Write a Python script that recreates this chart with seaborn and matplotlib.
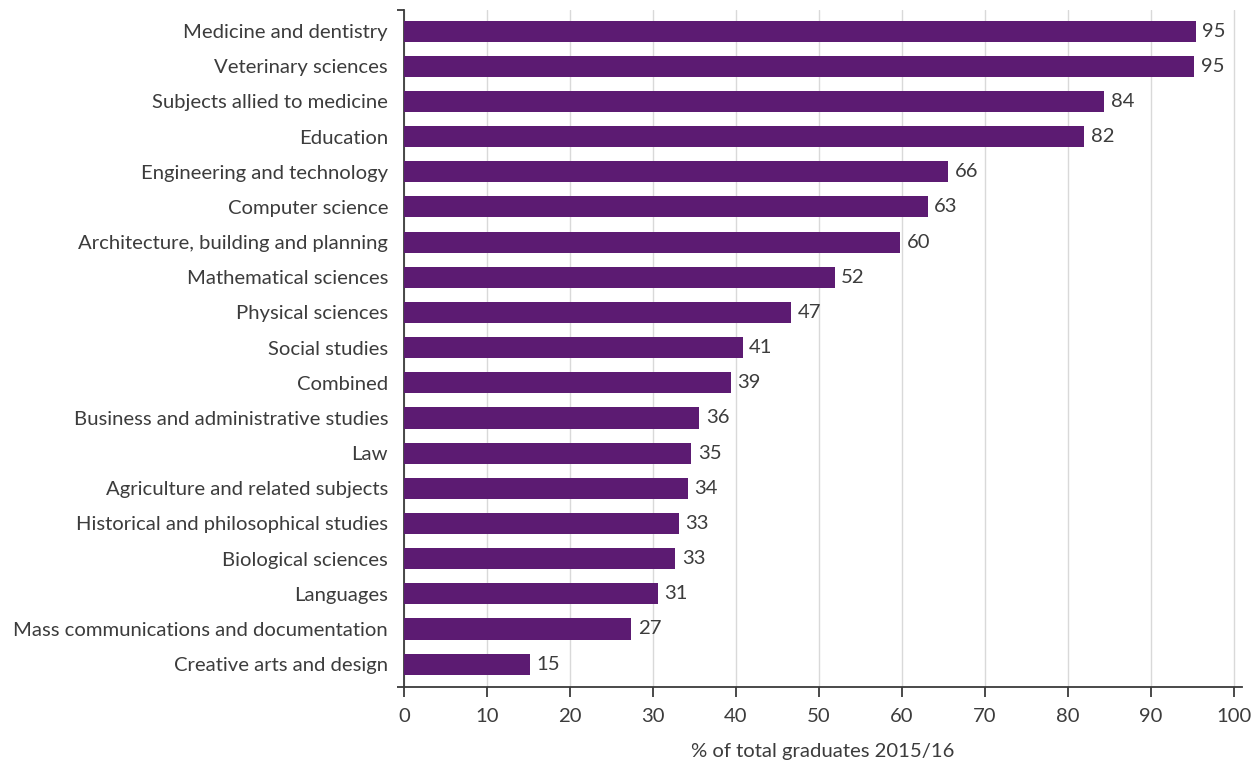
import matplotlib
matplotlib.use("Agg")
import matplotlib.pyplot as plt
import seaborn as sns
import pandas as pd

subjects = [
    "Medicine and dentistry",
    "Veterinary sciences",
    "Subjects allied to medicine",
    "Education",
    "Engineering and technology",
    "Computer science",
    "Architecture, building and planning",
    "Mathematical sciences",
    "Physical sciences",
    "Social studies",
    "Combined",
    "Business and administrative studies",
    "Law",
    "Agriculture and related subjects",
    "Historical and philosophical studies",
    "Biological sciences",
    "Languages",
    "Mass communications and documentation",
    "Creative arts and design",
]
share = [95.4, 95.2, 84.4, 82.0, 65.6, 63.1, 59.8, 51.9, 46.7, 40.8,
         39.4, 35.6, 34.6, 34.2, 33.1, 32.7, 30.6, 27.4, 15.2]
x_ticks = [0, 10, 20, 30, 40, 50, 60, 70, 80, 90, 100]
x_title = "% of total graduates 2015/16"

df = pd.DataFrame({"subject": subjects, "share": share})

sns.set_theme(style="white")
plt.rcParams["font.family"] = ["Lato", "DejaVu Sans"]

BAR = "#5c1b72"
TXT = "#3c3c3c"
AX = "#3a3a3a"
FS = 14.6

fig = plt.figure(figsize=(12.6, 7.62), dpi=100)
ax = fig.add_axes([404 / 1260, 1 - 687 / 762, (1242 - 404) / 1260, (687 - 10) / 762])

sns.barplot(data=df, x="share", y="subject", orient="h", color=BAR,
            saturation=1, width=0.6, linewidth=0, ax=ax, zorder=3)

ax.set_xlim(0, 101)
ax.set_ylim(18.65, -0.6)
ax.set_xticks(x_ticks)
ax.set_xticklabels([str(t) for t in x_ticks])
ax.xaxis.grid(True, color="#d9d9d9", linewidth=1, zorder=0)
ax.yaxis.grid(False)

for s in ["top", "right"]:
    ax.spines[s].set_visible(False)
for s in ["left", "bottom"]:
    ax.spines[s].set_color(AX)
    ax.spines[s].set_linewidth(1.3)

ax.tick_params(axis="x", bottom=True, direction="out", length=7, width=1.3,
               color=AX, labelsize=FS, labelcolor=TXT, pad=8)
ax.tick_params(axis="y", which="major", left=False, length=0, labelsize=FS,
               labelcolor=TXT, pad=11.5)
ax.set_yticks([18.65, -0.6], minor=True)
ax.tick_params(axis="y", which="minor", left=True, direction="out",
               length=5, width=1.3, color=AX)

for i, v in enumerate(share):
    ax.text(v + 0.8, i, f"{v:.0f}", va="center", ha="left",
            fontsize=FS, color=TXT)

ax.set_ylabel("")
ax.set_xlabel(x_title, fontsize=FS, color=TXT, labelpad=13)

fig.savefig("out.png", dpi=100)
